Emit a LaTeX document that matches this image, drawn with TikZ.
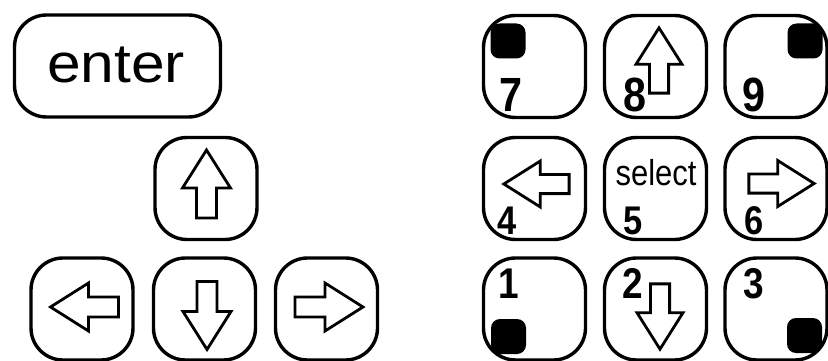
\documentclass[tikz,border=0pt]{standalone}
\usepackage{fontspec}
\setmainfont{Liberation Sans}
\newfontfamily\keyfont{Liberation Sans}[FakeStretch=1.1]
\newfontfamily\narrowfont{Liberation Sans}[FakeStretch=0.86]
\begin{document}
\begin{tikzpicture}[x=1pt,y=-1pt,
 keybox/.style={draw, line width=3.4pt, rounded corners=32pt, minimum width=102pt, minimum height=102pt, inner sep=0pt, outer sep=0pt},
 arrowline/.style={draw, line width=2.8pt, line join=miter, fill=white},
 digit/.style={inner sep=0pt, anchor=base, font=\narrowfont\bfseries\fontsize{#1}{#1}\selectfont},
 dot/.style={fill=black, rounded corners=9pt, minimum size=35pt, inner sep=0pt},
 blockarrow/.pic={\path[arrowline] (0,-34) -- (24,4) -- (10,4) -- (10,34) -- (-10,34) -- (-10,4) -- (-24,4) -- cycle;}
]
\useasboundingbox (0,0) rectangle (828,361);
% left group
\node[keybox, minimum width=206pt] (kenter) at (117.5,66) {};
\node[inner sep=0pt, anchor=base, font=\keyfont\fontsize{55}{60}\selectfont] (tenter) at (116,83) {enter};
\node[keybox] (kup) at (206,188.5) {};
\node[keybox] (kleft) at (82,309) {};
\node[keybox] (kdown) at (204.5,309) {};
\node[keybox] (kright) at (326.5,309) {};
\pic (aup) at (206.5,184) {blockarrow};
\pic[rotate=90] (aleft) at (84.5,307) {blockarrow};
\pic[rotate=180] (adown) at (207,315.5) {blockarrow};
\pic[rotate=-90] (aright) at (329,307) {blockarrow};
% right keypad
\node[keybox] (k7) at (534.5,66.5) {};
\node[keybox] (k8) at (655.5,66.5) {};
\node[keybox] (k9) at (776,66.5) {};
\node[keybox] (k4) at (534.5,188.5) {};
\node[keybox] (k5) at (655.5,188.5) {};
\node[keybox] (k6) at (776,188.5) {};
\node[keybox] (k1) at (534.5,309) {};
\node[keybox] (k2) at (655.5,309) {};
\node[keybox] (k3) at (776,309) {};
\node[dot] (d7) at (508,41) {};
\node[dot] (d9) at (805,41) {};
\node[dot] (d1) at (508.5,336.5) {};
\node[dot] (d3) at (804.5,335.5) {};
\pic[scale=0.96] (a8) at (659,60.5) {blockarrow};
\pic[rotate=90,scale=0.96] (a4) at (536.5,184) {blockarrow};
\pic[rotate=-90,scale=0.96] (a6) at (781.5,183.5) {blockarrow};
\pic[rotate=180,scale=0.96] (a2) at (660,316.5) {blockarrow};
\node[digit=48] (t7) at (511,112) {7};
\node[digit=48] (t8) at (635,112) {8};
\node[digit=48] (t9) at (754,112) {9};
\node[digit=40] (t4) at (507,234) {4};
\node[digit=40] (t5) at (633,234) {5};
\node[digit=40] (t6) at (754,234) {6};
\node[digit=43] (t1) at (509,298) {1};
\node[digit=43] (t2) at (633,298) {2};
\node[digit=43] (t3) at (754,298) {3};
\node[inner sep=0pt, anchor=base, font=\narrowfont\fontsize{36}{40}\selectfont] (tsel) at (656,185) {select};
\end{tikzpicture}
\end{document}
